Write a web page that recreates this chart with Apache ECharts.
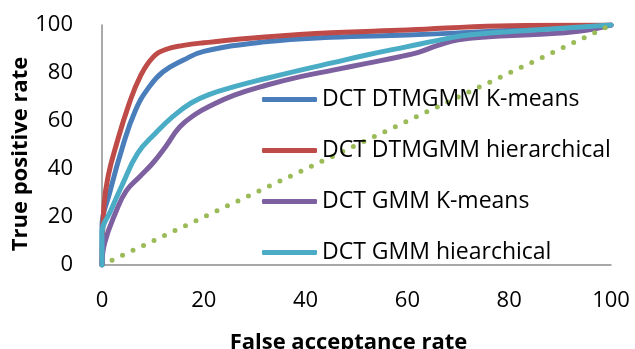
<!DOCTYPE html>
<html>
<head>
<meta charset="utf-8">
<script src="https://cdn.jsdelivr.net/npm/echarts@6/dist/echarts.min.js"></script>
<style>
  html, body { margin: 0; padding: 0; background: #fff; }
  #chart { width: 635px; height: 349px; }
</style>
</head>
<body>
<div id="chart"></div>
<script>
// ROC curves: false acceptance rate (x, %) vs true positive rate (y, %)
const xTicks = [0, 20, 40, 60, 80, 100];
const yTicks = [0, 20, 40, 60, 80, 100];

const seriesNames = [
  'DCT DTMGMM K-means',
  'DCT DTMGMM hierarchical',
  'DCT GMM K-means',
  'DCT GMM hiearchical'
];

const dtmgmmKmeans = [
  [0, 0], [0, 16], [1.5, 30], [4, 49], [6.6, 64.6], [9.2, 74],
  [12, 80.5], [16, 85.4], [20, 89], [32, 93], [45, 94.9], [60, 95.8],
  [72, 96.9], [85, 98.3], [100, 100]
];

const dtmgmmHier = [
  [0, 0], [0.4, 25], [1.2, 37], [2.8, 50], [5.3, 67], [7.5, 78.5],
  [10, 86.5], [12.5, 89.8], [16, 91.5], [20, 92.6], [32, 95], [45, 96.8],
  [60, 97.9], [78, 99.6], [100, 100]
];

const gmmKmeans = [
  [0, 0], [0.5, 9], [2.7, 22], [4.8, 31], [7.5, 37],
  [10, 42.5], [12.5, 49.3], [15.3, 57.6], [18.5, 63], [21, 66],
  [26, 70.8], [32.4, 75], [39, 78.5], [45.4, 81.2], [52, 84],
  [58.5, 86.8], [62, 88.5], [66, 91.5], [70, 93.8], [76, 95.1],
  [85, 96], [94, 97.5], [100, 100]
];

const gmmHier = [
  [0, 0], [0, 13], [1.8, 23], [4, 33.5], [7, 46.5],
  [10.5, 54.9], [14, 62], [17.5, 67.5], [21, 71], [26, 74.3],
  [32.4, 77.8], [39, 81.2], [45.4, 84.3], [52, 87.5], [60, 91],
  [66, 93.6], [72, 95.8], [85, 97.9], [100, 100]
];

// chance line
const diagonal = [[0, 0], [100, 100]];

const colors = ['#4A7EBB', '#BE4B48', '#7D60A0', '#4BACC6', '#9BBB59'];
const FONT = '"Open Sans", sans-serif';

function curve(name, data, color) {
  return {
    name: name,
    type: 'line',
    data: data,
    smooth: 0.45,
    showSymbol: false,
    symbol: 'none',
    lineStyle: { width: 5, color: color, cap: 'round', join: 'round' },
    itemStyle: { color: color },
    emphasis: { disabled: true },
    animation: false
  };
}

const chart = echarts.init(document.getElementById('chart'), null, { renderer: 'canvas' });

chart.setOption({
  backgroundColor: '#ffffff',
  textStyle: { fontFamily: FONT, color: '#000' },
  animation: false,
  grid: { left: 102, right: 24, top: 25, bottom: 84, containLabel: false, outerBoundsMode: 'none' },
  xAxis: {
    type: 'value',
    min: xTicks[0],
    max: xTicks[xTicks.length - 1],
    interval: xTicks[1] - xTicks[0],
    name: 'False acceptance rate',
    nameLocation: 'middle',
    nameGap: 67,
    nameTextStyle: { fontFamily: FONT, fontWeight: 'bold', fontSize: 22, color: '#000', padding: [0, 16, 0, 0] },
    axisLine: { show: true, lineStyle: { color: '#8C8C8C', width: 1.5 } },
    axisTick: { show: false },
    splitLine: { show: false },
    axisLabel: { fontFamily: FONT, fontSize: 22, color: '#000', margin: 25 }
  },
  yAxis: {
    type: 'value',
    min: yTicks[0],
    max: yTicks[yTicks.length - 1],
    interval: yTicks[1] - yTicks[0],
    name: 'True positive rate',
    nameLocation: 'middle',
    nameGap: 70,
    nameMoveOverlap: false,
    nameRotate: 90,
    nameTextStyle: { fontFamily: FONT, fontWeight: 'bold', fontSize: 22, color: '#000', padding: [0, 18, 0, 0] },
    axisLine: { show: true, lineStyle: { color: '#8C8C8C', width: 1.5 } },
    axisTick: { show: false },
    splitLine: { show: false },
    axisLabel: { fontFamily: FONT, fontSize: 22, color: '#000', margin: 29 }
  },
  legend: {
    orient: 'vertical',
    left: 262,
    top: 85,
    padding: 0,
    itemWidth: 55,
    itemHeight: 5,
    itemGap: 22,
    itemTextGap: 5,
    icon: 'roundRect',
    data: seriesNames,
    textStyle: { fontFamily: FONT, fontSize: 23, color: '#000', lineHeight: 29 },
    selectedMode: false
  },
  series: [
    curve(seriesNames[0], dtmgmmKmeans, colors[0]),
    curve(seriesNames[1], dtmgmmHier, colors[1]),
    curve(seriesNames[2], gmmKmeans, colors[2]),
    curve(seriesNames[3], gmmHier, colors[3]),
    {
      name: 'chance',
      type: 'line',
      data: diagonal,
      showSymbol: false,
      symbol: 'none',
      lineStyle: { width: 5, color: colors[4], type: [0, 11.6], dashOffset: 0.5, cap: 'round' },
      emphasis: { disabled: true },
      animation: false
    }
  ]
});
</script>
</body>
</html>
